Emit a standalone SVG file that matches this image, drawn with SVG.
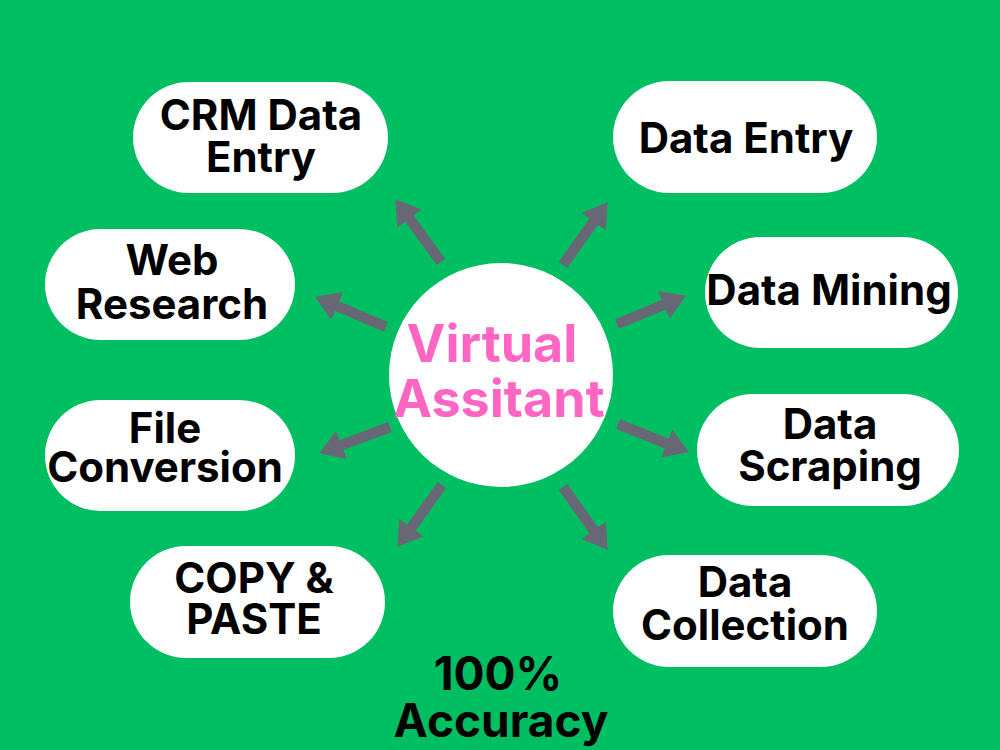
<svg xmlns="http://www.w3.org/2000/svg" width="1000" height="750" viewBox="0 0 1000 750">
<defs>
<style>
.pill{fill:#ffffff;}
.t{font-family:Inter,"Liberation Sans",sans-serif;font-weight:700;font-size:42px;fill:#000000;text-anchor:middle;}
.c{font-family:Inter,"Liberation Sans",sans-serif;font-weight:700;font-size:52px;fill:#FF66C4;text-anchor:middle;}
.b{font-family:Inter,"Liberation Sans",sans-serif;font-weight:700;font-size:46px;fill:#000000;text-anchor:middle;}
.arr{stroke:#676775;stroke-width:10.5;fill:none;marker-end:url(#head);}
</style>
<marker id="head" markerUnits="userSpaceOnUse" viewBox="0 0 24 30" markerWidth="24" markerHeight="30" refX="1" refY="15" orient="auto">
<path d="M0,0 L24,15 L0,30 z" fill="#676775"/>
</marker>
</defs>
<rect x="0" y="0" width="1000" height="750" fill="#00BF63"/>
<g id="connectors">
<line class="arr" x1="563" y1="265" x2="594.3" y2="220.9"/>
<line class="arr" x1="617" y1="324" x2="664.7" y2="304.4"/>
<line class="arr" x1="618" y1="424" x2="667.6" y2="443.8"/>
<line class="arr" x1="563" y1="487" x2="594.3" y2="531.1"/>
<line class="arr" x1="442" y1="485" x2="410.9" y2="528.2"/>
<line class="arr" x1="390" y1="427" x2="340.6" y2="445.3"/>
<line class="arr" x1="386" y1="327" x2="336.2" y2="305.7"/>
<line class="arr" x1="441" y1="262" x2="408.9" y2="217.8"/>
</g>
<g id="center">
<circle cx="501" cy="375" r="112" fill="#ffffff"/>
<text class="c" x="492" y="362">Virtual</text>
<text class="c" x="499" y="417">Assitant</text>
</g>
<g id="crm">
<rect class="pill" x="133" y="82" width="255" height="111" rx="55.5"/>
<text class="t" x="261" y="130">CRM Data</text>
<text class="t" x="261" y="172">Entry</text>
</g>
<g id="data-entry">
<rect class="pill" x="613" y="81" width="264" height="112" rx="56"/>
<text class="t" x="746" y="153">Data Entry</text>
</g>
<g id="web-research">
<rect class="pill" x="45" y="229" width="250" height="111" rx="55.5"/>
<text class="t" x="172" y="275">Web</text>
<text class="t" x="172" y="319">Research</text>
</g>
<g id="data-mining">
<rect class="pill" x="705" y="237" width="253" height="111" rx="55.5"/>
<text class="t" x="829" y="305">Data Mining</text>
</g>
<g id="file-conversion">
<rect class="pill" x="45" y="400" width="250" height="111" rx="55.5"/>
<text class="t" x="165" y="443">File</text>
<text class="t" x="165" y="482">Conversion</text>
</g>
<g id="data-scraping">
<rect class="pill" x="697" y="394" width="262" height="112" rx="56"/>
<text class="t" x="830" y="439">Data</text>
<text class="t" x="830" y="481">Scraping</text>
</g>
<g id="copy-paste">
<rect class="pill" x="130" y="546" width="255" height="112" rx="56"/>
<text class="t" x="254" y="593">COPY &amp;</text>
<text class="t" x="254" y="634">PASTE</text>
</g>
<g id="data-collection">
<rect class="pill" x="613" y="555" width="264" height="112" rx="56"/>
<text class="t" x="745" y="597">Data</text>
<text class="t" x="745" y="640">Collection</text>
</g>
<g id="footer">
<text class="b" x="498" y="690">100%</text>
<text class="b" x="501" y="737">Accuracy</text>
</g>
</svg>
